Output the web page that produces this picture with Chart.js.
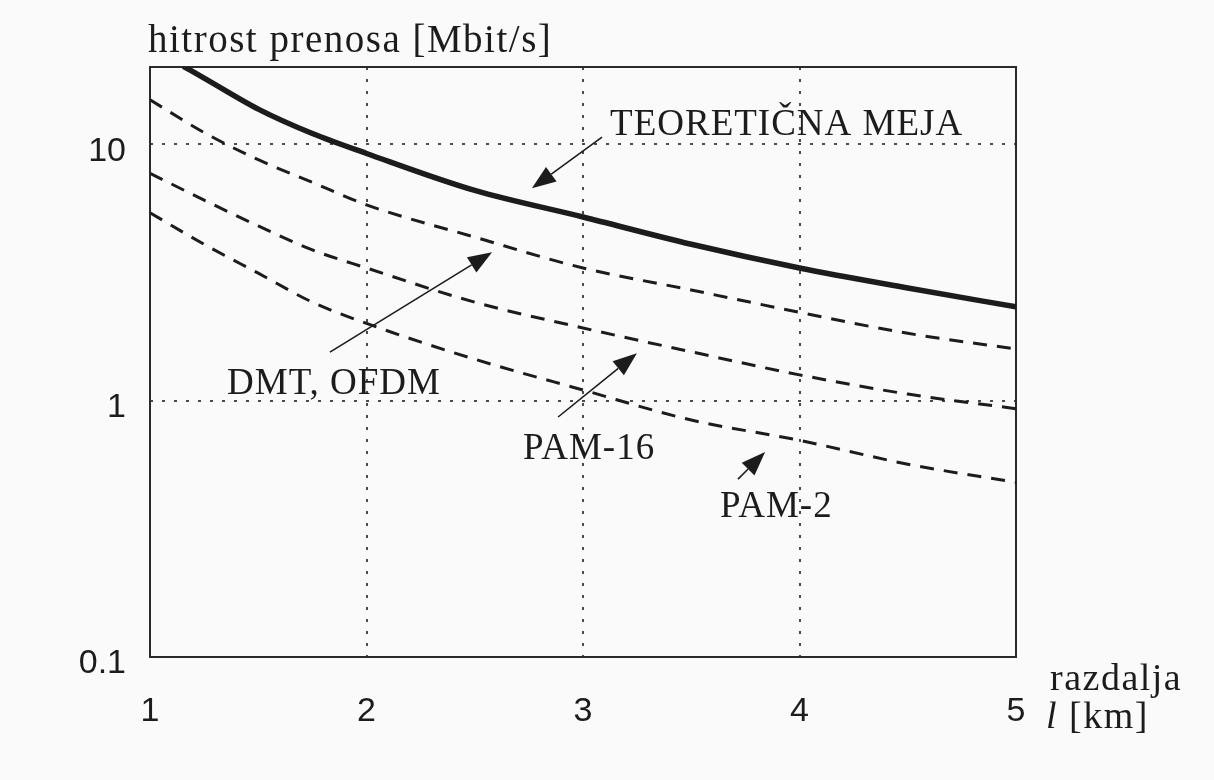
<!DOCTYPE html>
<html>
<head>
<meta charset="utf-8">
<title>hitrost prenosa</title>
<script src="https://cdn.jsdelivr.net/npm/chart.js@4/dist/chart.umd.min.js"></script>
<style>
  html, body { margin: 0; padding: 0; background: #fafafa; }
  canvas { display: block; }
</style>
</head>
<body>
<canvas id="chart" width="1214" height="780"></canvas>
<script>
// razdalja l [km]
const distanceKm = [1, 1.25, 1.5, 1.75, 2, 2.5, 3, 3.5, 4, 4.5, 5];
const limitKm = [1.16, 1.25, 1.5, 1.75, 2, 2.5, 3, 3.5, 4, 4.5, 5];

// hitrost prenosa [Mbit/s]
const teoreticnaMeja = [20, 18.1, 13.7, 11.0, 9.2, 6.6, 5.2, 4.07, 3.29, 2.75, 2.32];
const dmtOfdm = [14.9, 11.1, 8.7, 7.1, 5.8, 4.34, 3.29, 2.70, 2.21, 1.83, 1.59];
const pam16 = [7.7, 6.05, 4.8, 3.87, 3.29, 2.42, 1.92, 1.55, 1.26, 1.06, 0.93];
const pam2 = [5.4, 4.07, 3.14, 2.42, 2.0, 1.45, 1.10, 0.84, 0.70, 0.565, 0.48];

const xTicks = [1, 2, 3, 4, 5];
const yTicks = [0.1, 1, 10];
const yMin = 0.1;
const yMax = 20;

// Curve labels with their arrows (tail -> tip), in data coordinates
const callouts = [
  { text: 'TEORETIČNA MEJA', at: [3.125, 10.9], tail: [3.088, 10.65], tip: [2.764, 6.73] },
  { text: 'DMT, OFDM',       at: [1.356, 1.06], tail: [1.831, 1.545], tip: [2.58, 3.79] },
  { text: 'PAM-16',          at: [2.723, 0.59], tail: [2.885, 0.863], tip: [3.249, 1.53] },
  { text: 'PAM-2',           at: [3.633, 0.35], tail: [3.716, 0.494], tip: [3.841, 0.63] }
];

const ink = '#1c1c1c';
const serif = '"Liberation Serif", "Times New Roman", serif';
const sans = '"Liberation Sans", Arial, sans-serif';

const pts = (xs, ys) => xs.map((x, i) => ({ x: x, y: ys[i] }));

const paperPlugin = {
  id: 'paper',
  beforeDraw(chart) {
    const c = chart.ctx;
    c.save();
    c.fillStyle = '#fafafa';
    c.fillRect(0, 0, chart.width, chart.height);
    c.restore();
  },
  beforeDatasetsDraw(chart) {
    const { ctx: c, chartArea: a } = chart;
    c.save();
    c.strokeStyle = '#2a2a2a';
    c.lineWidth = 2;
    c.strokeRect(a.left, a.top, a.right - a.left, a.bottom - a.top);
    c.restore();
  }
};

function drawArrow(c, x1, y1, x2, y2) {
  const ang = Math.atan2(y2 - y1, x2 - x1);
  const len = 24, half = 9;
  const bx = x2 - len * Math.cos(ang), by = y2 - len * Math.sin(ang);
  c.beginPath();
  c.moveTo(x1, y1);
  c.lineTo(bx, by);
  c.stroke();
  c.beginPath();
  c.moveTo(x2, y2);
  c.lineTo(bx + half * Math.sin(ang), by - half * Math.cos(ang));
  c.lineTo(bx - half * Math.sin(ang), by + half * Math.cos(ang));
  c.closePath();
  c.fill();
}

const labelsPlugin = {
  id: 'labels',
  afterDraw(chart) {
    const { ctx: c, chartArea: a, scales } = chart;
    const X = v => scales.x.getPixelForValue(v);
    const Y = v => scales.y.getPixelForValue(v);
    c.save();
    c.fillStyle = ink;
    c.strokeStyle = ink;
    c.lineWidth = 1.6;
    c.textBaseline = 'alphabetic';
    c.textAlign = 'left';

    // axis titles
    c.font = '39px ' + serif;
    c.letterSpacing = '1.5px';
    c.fillText('hitrost prenosa [Mbit/s]', a.left - 2, a.top - 15);

    c.font = '38px ' + serif;
    c.letterSpacing = '1.5px';
    c.fillText('razdalja', a.right + 34, a.bottom + 33);
    c.font = 'italic 38px ' + serif;
    c.fillText('l', a.right + 30, a.bottom + 71);
    const lw = c.measureText('l').width;
    c.font = '38px ' + serif;
    c.fillText(' [km]', a.right + 30 + lw, a.bottom + 71);

    // curve labels and arrows
    c.letterSpacing = '1px';
    callouts.forEach(k => {
      c.font = '37px ' + serif;
      c.fillText(k.text, X(k.at[0]), Y(k.at[1]));
      drawArrow(c, X(k.tail[0]), Y(k.tail[1]), X(k.tip[0]), Y(k.tip[1]));
    });
    c.restore();
  }
};

const gridColour = '#4a4a4a';

new Chart(document.getElementById('chart'), {
  type: 'line',
  data: {
    datasets: [
      { label: 'TEORETIČNA MEJA', data: pts(limitKm, teoreticnaMeja), borderColor: ink, borderWidth: 5.5, borderCapStyle: 'round' },
      { label: 'DMT, OFDM', data: pts(distanceKm, dmtOfdm), borderColor: ink, borderWidth: 3, borderDash: [14, 10] },
      { label: 'PAM-16', data: pts(distanceKm, pam16), borderColor: ink, borderWidth: 3, borderDash: [14, 10] },
      { label: 'PAM-2', data: pts(distanceKm, pam2), borderColor: ink, borderWidth: 3, borderDash: [14, 10] }
    ]
  },
  options: {
    responsive: false,
    animation: false,
    events: [],
    devicePixelRatio: 1,
    layout: { padding: { left: 0, top: 67, right: 198, bottom: 0 } },
    elements: {
      point: { radius: 0 },
      line: { cubicInterpolationMode: 'monotone', fill: false }
    },
    plugins: {
      legend: { display: false },
      title: { display: false },
      tooltip: { enabled: false }
    },
    scales: {
      x: {
        type: 'linear',
        min: 1,
        max: 5,
        afterBuildTicks: s => { s.ticks = xTicks.map(v => ({ value: v })); },
        afterFit: s => { s.height = 123; },
        border: { display: false, dash: [3, 9] },
        grid: {
          drawTicks: false,
          lineWidth: 2,
          color: ctx => (ctx.tick && ctx.tick.value > 1 && ctx.tick.value < 5) ? gridColour : 'rgba(0,0,0,0)'
        },
        ticks: {
          padding: 34,
          color: ink,
          font: { family: sans, size: 34 },
          callback: v => String(v)
        }
      },
      y: {
        type: 'logarithmic',
        min: yMin,
        max: yMax,
        afterBuildTicks: s => { s.ticks = yTicks.map(v => ({ value: v })); },
        afterFit: s => { s.width = 150; },
        border: { display: false, dash: [3, 9] },
        grid: {
          drawTicks: false,
          lineWidth: 2,
          color: ctx => (ctx.tick && ctx.tick.value > 0.5) ? gridColour : 'rgba(0,0,0,0)'
        },
        ticks: {
          padding: 24,
          labelOffset: 7,
          color: ink,
          font: { family: sans, size: 34 },
          callback: v => String(v)
        }
      }
    }
  },
  plugins: [paperPlugin, labelsPlugin]
});
</script>
</body>
</html>
